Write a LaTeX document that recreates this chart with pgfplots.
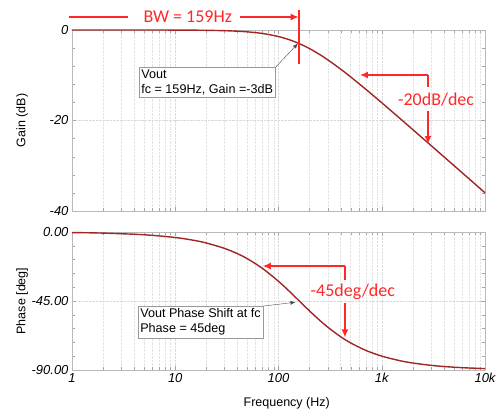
\documentclass[border=0pt]{standalone}
\usepackage{pgfplots}
\pgfplotsset{compat=1.18}
\usepackage{fontspec}
\setmainfont{Liberation Sans}
\newfontfamily\calib{Carlito}
\usetikzlibrary{arrows.meta}
\definecolor{curve}{RGB}{160,38,38}
\definecolor{annot}{RGB}{255,40,40}

\pgfplotsset{
  every axis/.append style={
    scale only axis,
    width=413pt,
    xmin=1, xmax=10000,
    xtick={1,10,100,1000,10000},
    xmajorgrids, xminorgrids, ymajorgrids,
    major grid style={gray!30, densely dotted},
    minor grid style={gray!22, densely dotted},
    axis line style={gray!55},
    tick style={gray!70},
    minor y tick num=4,
    clip=false,
    /pgf/number format/assume math mode=true,
    ticklabel style={font=\fontsize{13}{15}\selectfont\itshape},
    label style={font=\fontsize{12.5}{15}\selectfont},
    ylabel style={at={(axis description cs:-0.121,0.5)}, anchor=center},
  },
}
\tikzset{
  callout/.style={draw=gray!80, fill=white, align=left, inner sep=2.5pt,
    font=\fontsize{12.6}{15}\selectfont},
  redtxt/.style={text=annot, font=\calib\fontsize{18}{20}\selectfont},
  redln/.style={annot, line width=2pt},
  redarr/.style={annot, line width=2pt, -{Latex[length=8pt,width=7pt]}},
}

\begin{document}
\begin{tikzpicture}

% ---------------- gain ----------------
\begin{semilogxaxis}[
  name=gain,
  at={(0,0)}, anchor=south west,
  height=181pt,
  ymin=-40, ymax=0,
  ytick={-40,-20,0},
  yticklabels={-40,-20,0},
  xticklabels={},
  ylabel={Gain (dB)},
]
\addplot[curve, line width=1.4pt, smooth] coordinates {
  (1,0.000)(2,-0.001)(5,-0.004)(10,-0.017)(15,-0.039)(20,-0.068)(30,-0.152)
  (40,-0.267)(50,-0.410)(70,-0.770)(100,-1.447)(130,-2.222)(159,-3.010)
  (200,-4.120)(250,-5.406)(300,-6.590)(400,-8.650)(500,-10.370)(700,-13.093)
  (1000,-16.081)(1500,-19.542)(2000,-22.020)(3000,-25.527)(4000,-28.020)
  (5000,-29.956)(7000,-32.876)(10000,-35.973)
};

% bandwidth marker
\draw[redln] (axis cs:0.93,2.87) -- (axis cs:3.45,2.87);
\node[redtxt] at (axis cs:13.2,2.87) {BW = 159Hz};
\draw[redarr] (axis cs:42,2.87) -- (axis cs:157,2.87);
\draw[redln] (axis cs:159,4.4) -- (axis cs:159,-7.5);

% callout
\node[callout, anchor=north west] (c1) at (axis cs:4.42,-8.2)
  {Vout\\fc = 159Hz, Gain =-3dB};
\draw[black!70, -{Latex[length=5pt,width=4pt]}] (c1.north east) -- (axis cs:154,-3.0);

% slope
\draw[redarr] (axis cs:2806,-9.94) -- (axis cs:615,-9.94);
\draw[redln] (axis cs:2806,-9.94) -- (axis cs:2806,-12.6);
\node[redtxt] at (axis cs:3357,-15.5) {-20dB/dec};
\draw[redarr] (axis cs:2806,-17.8) -- (axis cs:2806,-25.2);
\end{semilogxaxis}

% ---------------- phase ----------------
\begin{semilogxaxis}[
  name=phase,
  at={(0,-21pt)}, anchor=north west,
  height=138pt,
  ymin=-90, ymax=0,
  ytick={-90,-45,0},
  yticklabels={-90.00,-45.00,0.00},
  xticklabels={1,10,100,1k,10k},
  ylabel={Phase [deg]},
  xlabel={Frequency (Hz)},
  xlabel style={at={(axis description cs:0.52,0)}, yshift=-33pt, anchor=center},
]
\addplot[curve, line width=1.4pt, smooth] coordinates {
  (1,-0.36)(2,-0.72)(5,-1.80)(10,-3.60)(15,-5.39)(20,-7.17)(30,-10.68)
  (40,-14.12)(50,-17.46)(70,-23.76)(100,-32.17)(130,-39.27)(159,-45.00)
  (200,-51.51)(250,-57.54)(300,-62.08)(400,-68.32)(500,-72.36)(700,-77.20)
  (1000,-80.97)(1500,-83.95)(2000,-85.45)(3000,-86.97)(4000,-87.72)
  (5000,-88.18)(7000,-88.70)(10000,-89.09)
};

% callout
\node[callout, anchor=north west] (c2) at (axis cs:4.32,-48.3)
  {Vout Phase Shift at fc\\Phase = 45deg};
\draw[black!70, -{Latex[length=5pt,width=4pt]}] (c2.north east) -- (axis cs:146,-45.8);

% slope
\draw[redarr] (axis cs:440,-22.2) -- (axis cs:70.4,-22.2);
\draw[redln] (axis cs:440,-22.2) -- (axis cs:440,-31.0);
\node[redtxt] at (axis cs:525,-39.1) {-45deg/dec};
\draw[redarr] (axis cs:440,-46.3) -- (axis cs:440,-68.8);
\end{semilogxaxis}

\pgfresetboundingbox
\path[use as bounding box] (-72pt,-200pt) rectangle (425pt,211pt);
\end{tikzpicture}
\end{document}
